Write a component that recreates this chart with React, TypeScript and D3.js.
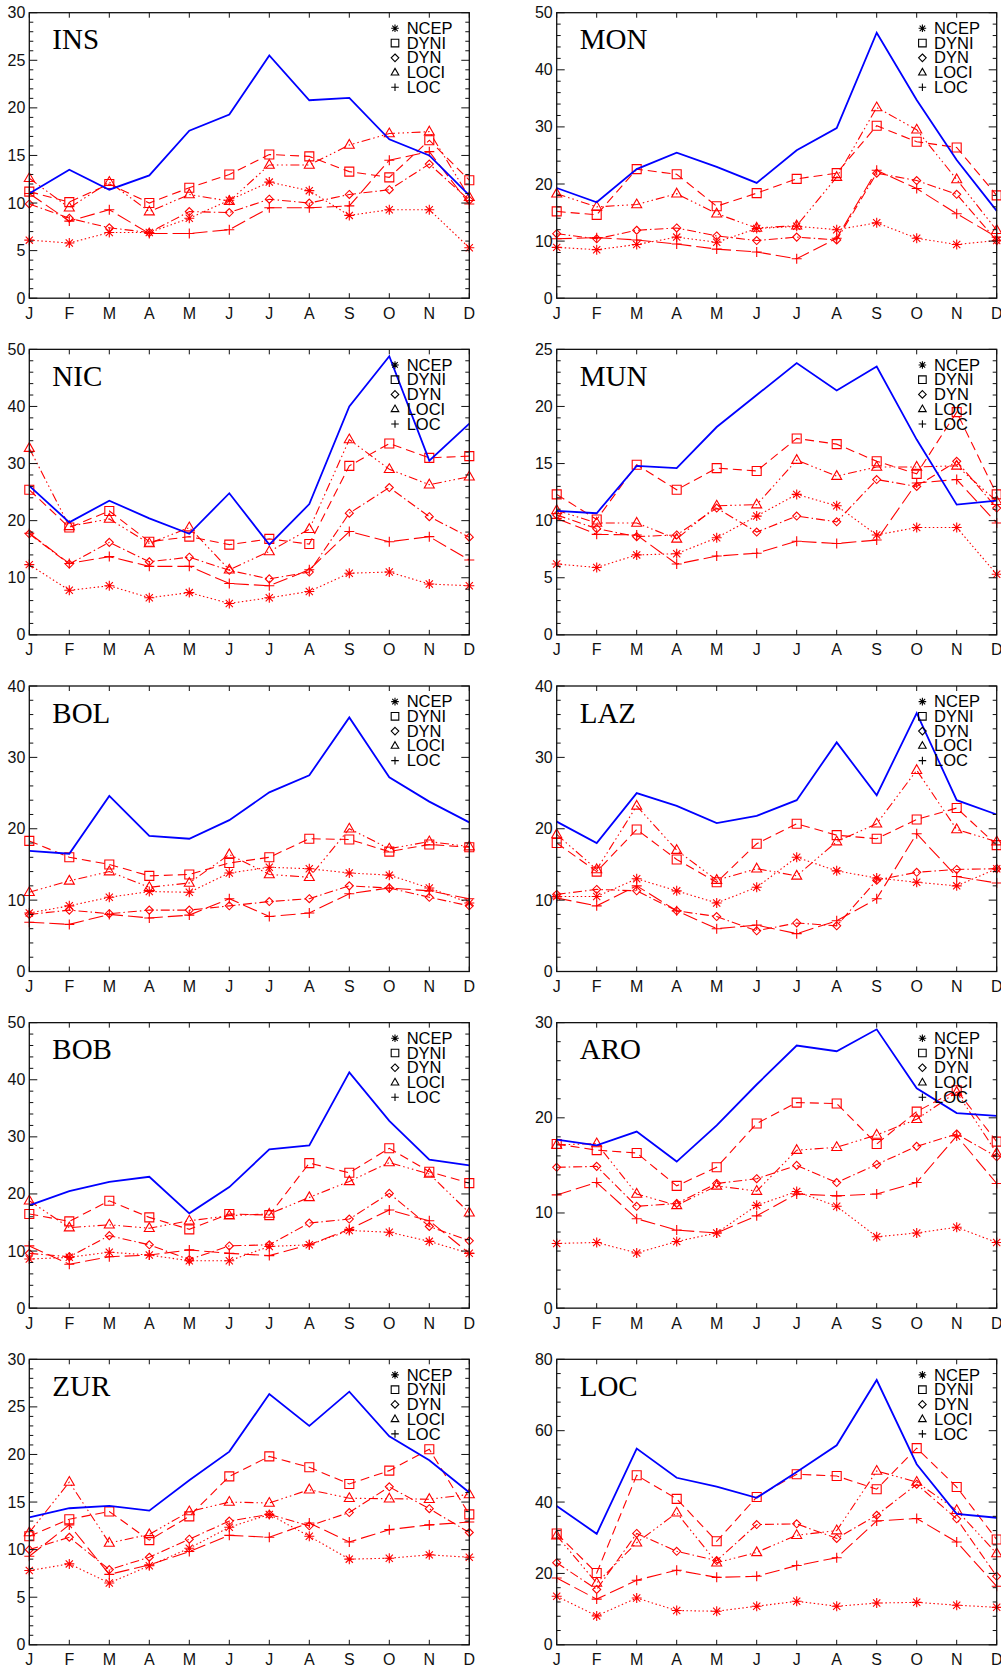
import * as d3 from "d3";
import React from "react";

const months = ["J", "F", "M", "A", "M", "J", "J", "A", "S", "O", "N", "D"];
const seriesNames = ["NCEP", "DYNI", "DYN", "LOCI", "LOC"];

// INS
const insObs = [11.0, 13.5, 11.4, 12.9, 17.6, 19.3, 25.5, 20.8, 21.05, 16.7, 15.0, 10.8];
const insNcep = [6.1, 5.8, 6.9, 6.9, 8.4, 10.3, 12.2, 11.3, 8.7, 9.3, 9.3, 5.3];
const insDyni = [11.2, 10.1, 12.0, 10.0, 11.6, 13.0, 15.1, 14.9, 13.3, 12.7, 16.6, 12.4];
const insDyn = [9.9, 8.4, 7.4, 6.9, 9.1, 9.0, 10.4, 10.0, 10.9, 11.4, 14.1, 10.3];
const insLoci = [12.6, 9.5, 12.2, 9.1, 10.9, 10.2, 14.0, 14.0, 16.1, 17.3, 17.5, 10.6];
const insLoc = [11.0, 8.1, 9.3, 6.8, 6.8, 7.2, 9.5, 9.5, 9.7, 14.5, 15.4, 9.9];

// MON
const monObs = [19.3, 16.8, 22.6, 25.5, 23.0, 20.2, 25.9, 29.8, 46.5, 34.7, 24.2, 15.3];
const monNcep = [8.9, 8.5, 9.4, 10.7, 9.8, 12.2, 12.6, 12.0, 13.2, 10.5, 9.4, 10.1];
const monDyni = [15.2, 14.6, 22.6, 21.7, 16.1, 18.4, 20.9, 21.9, 30.2, 27.4, 26.4, 18.0];
const monDyn = [11.3, 10.4, 11.9, 12.3, 10.9, 10.1, 10.7, 10.2, 21.9, 20.6, 18.2, 10.1];
const monLoci = [18.3, 16.0, 16.4, 18.3, 14.8, 12.3, 12.7, 21.2, 33.4, 29.5, 20.8, 11.9];
const monLoc = [10.4, 10.6, 10.2, 9.5, 8.6, 8.1, 6.9, 10.5, 22.4, 19.2, 14.8, 10.7];

// NIC
const nicObs = [26.1, 19.7, 23.5, 20.4, 17.7, 24.8, 15.8, 22.9, 40.0, 48.8, 30.5, 37.0];
const nicNcep = [12.3, 7.8, 8.6, 6.5, 7.4, 5.5, 6.5, 7.6, 10.8, 11.0, 8.9, 8.6];
const nicDyni = [25.4, 18.8, 21.7, 16.3, 17.2, 15.8, 16.8, 15.9, 29.6, 33.5, 31.0, 31.3];
const nicDyn = [17.7, 12.4, 16.2, 12.8, 13.6, 11.3, 9.8, 11.0, 21.3, 25.8, 20.7, 17.1];
const nicLoci = [32.7, 19.0, 20.3, 16.0, 18.8, 11.4, 14.6, 18.5, 34.2, 29.0, 26.3, 27.7];
const nicLoc = [17.8, 12.5, 13.7, 12.0, 12.0, 9.0, 8.6, 11.4, 18.1, 16.3, 17.2, 13.1];

// MUN
const munObs = [10.85, 10.65, 14.8, 14.6, 18.2, 21.0, 23.8, 21.4, 23.5, 17.1, 11.4, 11.75];
const munNcep = [6.2, 5.9, 7.0, 7.1, 8.5, 10.4, 12.3, 11.3, 8.75, 9.4, 9.4, 5.3];
const munDyni = [12.3, 10.1, 14.9, 12.7, 14.6, 14.35, 17.2, 16.7, 15.2, 14.1, 19.5, 12.3];
const munDyn = [10.5, 9.3, 8.6, 8.75, 11.1, 9.0, 10.4, 9.9, 13.6, 13.0, 15.2, 11.1];
const munLoci = [10.9, 9.8, 9.8, 8.4, 11.3, 11.4, 15.3, 13.9, 14.7, 14.7, 14.8, 11.7];
const munLoc = [10.2, 8.8, 8.75, 6.2, 6.9, 7.15, 8.2, 8.0, 8.3, 13.3, 13.6, 9.8];

// BOL
const bolObs = [16.9, 16.5, 24.6, 19.0, 18.6, 21.2, 25.1, 27.5, 35.6, 27.2, 23.8, 20.9];
const bolNcep = [8.2, 9.2, 10.4, 11.2, 11.1, 13.8, 14.6, 14.4, 13.8, 13.5, 11.7, 9.6];
const bolDyni = [18.3, 16.0, 15.0, 13.4, 13.6, 15.2, 16.0, 18.6, 18.5, 16.8, 17.8, 17.4];
const bolDyn = [8.0, 8.6, 8.1, 8.6, 8.6, 9.2, 9.8, 10.2, 12.0, 11.7, 10.4, 9.2];
const bolLoci = [11.1, 12.7, 14.0, 11.8, 12.4, 16.4, 13.6, 13.2, 20.0, 17.2, 18.2, 17.5];
const bolLoc = [6.9, 6.6, 8.0, 7.5, 7.9, 10.2, 7.7, 8.2, 10.9, 11.7, 11.3, 10.2];

// LAZ
const lazObs = [21.0, 18.0, 25.0, 23.2, 20.8, 21.8, 24.0, 32.1, 24.7, 36.2, 24.0, 22.0];
const lazNcep = [10.5, 10.5, 13.0, 11.3, 9.6, 11.8, 16.0, 14.1, 13.1, 12.5, 12.0, 14.4];
const lazDyni = [18.0, 14.0, 19.9, 15.7, 12.5, 17.9, 20.7, 19.1, 18.6, 21.3, 22.9, 17.7];
const lazDyn = [10.8, 11.5, 11.3, 8.5, 7.7, 5.7, 6.8, 6.4, 12.8, 13.9, 14.3, 14.4];
const lazLoci = [19.2, 14.3, 23.2, 17.0, 12.8, 14.4, 13.4, 18.2, 20.7, 28.2, 19.9, 18.2];
const lazLoc = [10.3, 9.2, 12.0, 8.5, 6.0, 6.5, 5.3, 7.1, 10.2, 19.3, 13.3, 12.4];

// BOB
const bobObs = [18.0, 20.5, 22.1, 23.0, 16.6, 21.2, 27.8, 28.5, 41.3, 32.8, 26.0, 25.0];
const bobNcep = [8.6, 8.9, 9.8, 9.3, 8.3, 8.3, 10.8, 11.1, 13.6, 13.3, 11.7, 9.6];
const bobDyni = [16.5, 15.2, 18.8, 15.9, 13.8, 16.5, 16.3, 25.4, 23.7, 28.0, 23.9, 21.9];
const bobDyn = [9.6, 9.0, 12.7, 11.1, 8.5, 10.9, 11.1, 14.9, 15.6, 20.1, 14.3, 11.8];
const bobLoci = [18.8, 14.1, 14.6, 14.0, 15.3, 16.2, 16.5, 19.4, 22.2, 25.5, 23.5, 16.7];
const bobLoc = [10.9, 7.7, 9.0, 9.3, 10.2, 9.6, 9.2, 11.1, 13.8, 17.2, 15.3, 9.6];

// ARO
const aroObs = [17.7, 17.1, 18.55, 15.4, 19.2, 23.5, 27.6, 27.0, 29.3, 23.1, 20.5, 20.2];
const aroNcep = [6.8, 6.9, 5.8, 7.0, 7.9, 10.8, 12.25, 10.7, 7.5, 7.9, 8.5, 6.9];
const aroDyni = [17.25, 16.6, 16.3, 12.85, 14.8, 19.4, 21.6, 21.5, 17.25, 20.65, 22.9, 17.5];
const aroDyn = [14.8, 14.9, 10.7, 11.0, 13.1, 13.6, 15.0, 13.2, 15.1, 17.0, 18.3, 15.9];
const aroLoci = [17.15, 17.3, 12.0, 10.8, 12.85, 12.3, 16.6, 16.9, 18.2, 19.85, 22.7, 16.3];
const aroLoc = [11.9, 13.2, 9.4, 8.2, 7.9, 9.7, 12.0, 11.8, 12.0, 13.2, 18.1, 13.1];

// ZUR
const zurObs = [13.4, 14.35, 14.6, 14.1, 17.3, 20.3, 26.35, 23.0, 26.6, 21.9, 19.4, 16.0];
const zurNcep = [7.8, 8.5, 6.5, 8.3, 10.15, 12.35, 13.7, 11.4, 9.0, 9.1, 9.45, 9.2];
const zurDyni = [11.4, 13.2, 14.0, 11.0, 13.5, 17.7, 19.8, 18.65, 16.9, 18.3, 20.55, 13.7];
const zurDyn = [10.0, 11.3, 7.9, 9.2, 11.1, 13.0, 13.7, 12.5, 13.9, 16.6, 14.3, 11.8];
const zurLoci = [11.8, 17.1, 10.7, 11.6, 14.0, 15.0, 14.9, 16.3, 15.4, 15.35, 15.3, 15.8];
const zurLoc = [9.3, 12.6, 7.4, 8.4, 9.8, 11.5, 11.3, 12.8, 10.8, 12.1, 12.6, 12.9];

// LOC
const locObs = [38.9, 31.1, 55.0, 46.8, 44.3, 41.2, 48.4, 55.9, 74.2, 50.6, 36.7, 35.6];
const locNcep = [13.6, 8.1, 13.1, 9.6, 9.4, 10.8, 12.2, 10.8, 11.7, 11.9, 11.1, 10.5];
const locDyni = [31.2, 20.1, 47.5, 40.9, 29.0, 41.4, 47.8, 47.3, 43.6, 55.1, 44.2, 29.5];
const locDyn = [23.0, 15.5, 31.2, 26.2, 23.6, 33.7, 33.9, 29.8, 36.3, 45.0, 35.3, 19.2];
const locLoci = [30.6, 17.3, 28.6, 37.0, 23.0, 25.9, 30.7, 32.0, 48.7, 45.6, 37.7, 25.6];
const locLoc = [18.7, 12.8, 18.1, 20.9, 18.9, 19.2, 22.2, 24.4, 34.7, 35.4, 28.8, 16.4];

const panels = [
  { name: "INS", max: 30, major: 5, minor: 1, obs: insObs, models: [insNcep, insDyni, insDyn, insLoci, insLoc] },
  { name: "MON", max: 50, major: 10, minor: 2, obs: monObs, models: [monNcep, monDyni, monDyn, monLoci, monLoc] },
  { name: "NIC", max: 50, major: 10, minor: 2, obs: nicObs, models: [nicNcep, nicDyni, nicDyn, nicLoci, nicLoc] },
  { name: "MUN", max: 25, major: 5, minor: 1, obs: munObs, models: [munNcep, munDyni, munDyn, munLoci, munLoc] },
  { name: "BOL", max: 40, major: 10, minor: 2, obs: bolObs, models: [bolNcep, bolDyni, bolDyn, bolLoci, bolLoc] },
  { name: "LAZ", max: 40, major: 10, minor: 2, obs: lazObs, models: [lazNcep, lazDyni, lazDyn, lazLoci, lazLoc] },
  { name: "BOB", max: 50, major: 10, minor: 2, obs: bobObs, models: [bobNcep, bobDyni, bobDyn, bobLoci, bobLoc] },
  { name: "ARO", max: 30, major: 10, minor: 2, obs: aroObs, models: [aroNcep, aroDyni, aroDyn, aroLoci, aroLoc] },
  { name: "ZUR", max: 30, major: 5, minor: 1, obs: zurObs, models: [zurNcep, zurDyni, zurDyn, zurLoci, zurLoc] },
  { name: "LOC", max: 80, major: 20, minor: 4, obs: locObs, models: [locNcep, locDyni, locDyn, locLoci, locLoc] },
];

// line style + marker per model series
const dashes = ["1.5,2.5", "9,5", "9,3,1.5,3", "9,3,1.5,3,1.5,3,1.5,3", "15,5"];
const markerKinds = ["asterisk", "square", "diamond", "triangle", "plus"];

const RED = "#ff0000";
const BLUE = "#0000ff";
const sans = "Liberation Sans, Arial, Helvetica, sans-serif";
const serif = "Liberation Serif, Times New Roman, serif";

function markerPath(kind: string, x: number, y: number, r: number) {
  if (kind === "asterisk") {
    const d = r * 0.72;
    return `M${x - r},${y}H${x + r}M${x},${y - r}V${y + r}M${x - d},${y - d}L${x + d},${y + d}M${x - d},${y + d}L${x + d},${y - d}`;
  }
  if (kind === "square") return `M${x - r},${y - r}H${x + r}V${y + r}H${x - r}Z`;
  if (kind === "diamond") return `M${x},${y - r}L${x + r},${y}L${x},${y + r}L${x - r},${y}Z`;
  if (kind === "triangle") return `M${x},${y - r * 1.1}L${x + r},${y + r * 0.65}L${x - r},${y + r * 0.65}Z`;
  return `M${x - r},${y}H${x + r}M${x},${y - r}V${y + r}`;
}

const markerSize = [5, 4.5, 4, 5, 5];

function Panel({ p, idx }: { p: (typeof panels)[number]; idx: number }) {
  const col = idx % 2;
  const row = Math.floor(idx / 2);
  const left = col === 0 ? 29.3 : 556.7;
  const width = 440;
  const top = 12.7 + row * 336.65;
  const height = 285.5;
  const bottom = top + height;

  const x = d3.scaleLinear().domain([0, 11]).range([left, left + width]);
  const y = d3.scaleLinear().domain([0, p.max]).range([bottom, top]);
  const line = d3
    .line<number>()
    .x((_, i) => x(i))
    .y((v) => y(v));

  const majors = d3.range(0, p.max + 0.001, p.major);
  const minors = d3.range(0, p.max + 0.001, p.minor).filter((v) => Math.abs(v / p.major - Math.round(v / p.major)) > 1e-6);

  return (
    <g>
      {/* model series */}
      {p.models.map((vals, s) => (
        <g key={s}>
          <path d={line(vals) || ""} fill="none" stroke={RED} strokeWidth={1.1} strokeDasharray={dashes[s]} />
          {vals.map((v, i) => (
            <path key={i} d={markerPath(markerKinds[s], x(i), y(v), markerSize[s])} fill="none" stroke={RED} strokeWidth={1.1} />
          ))}
        </g>
      ))}
      {/* observed */}
      <path d={line(p.obs) || ""} fill="none" stroke={BLUE} strokeWidth={1.8} />

      {/* frame */}
      <rect x={left} y={top} width={width} height={height} fill="none" stroke="#111" strokeWidth={1.3} />
      {/* x ticks */}
      {months.map((m, i) => (
        <g key={i}>
          <line x1={x(i)} x2={x(i)} y1={bottom} y2={bottom - 5} stroke="#111" strokeWidth={1} />
          <line x1={x(i)} x2={x(i)} y1={top} y2={top + 5} stroke="#111" strokeWidth={1} />
          <text x={x(i)} y={bottom + 20.5} textAnchor="middle" fontFamily={sans} fontSize={16} fill="#111">
            {m}
          </text>
        </g>
      ))}
      {/* y ticks */}
      {majors.map((v) => (
        <g key={"M" + v}>
          <line x1={left} x2={left + 8} y1={y(v)} y2={y(v)} stroke="#111" strokeWidth={1} />
          <line x1={left + width} x2={left + width - 8} y1={y(v)} y2={y(v)} stroke="#111" strokeWidth={1} />
          <text x={left - 4} y={y(v) + 5.5} textAnchor="end" fontFamily={sans} fontSize={16} fill="#111">
            {v}
          </text>
        </g>
      ))}
      {minors.map((v) => (
        <g key={"m" + v}>
          <line x1={left} x2={left + 4} y1={y(v)} y2={y(v)} stroke="#111" strokeWidth={1} />
          <line x1={left + width} x2={left + width - 4} y1={y(v)} y2={y(v)} stroke="#111" strokeWidth={1} />
        </g>
      ))}
      {/* title */}
      <text x={left + 23} y={top + 36.6} fontFamily={serif} fontSize={29} fill="#000">
        {p.name}
      </text>
      {/* legend */}
      {seriesNames.map((n, s) => {
        const ly = top + 15.6 + s * 14.75;
        return (
          <g key={n}>
            <path d={markerPath(markerKinds[s], left + 365.7, ly, 3.8)} fill="none" stroke="#000" strokeWidth={1.1} />
            <text x={left + 377.4} y={ly + 5.6} fontFamily={sans} fontSize={16.5} fill="#000">
              {n}
            </text>
          </g>
        );
      })}
    </g>
  );
}

export default function App() {
  return (
    <svg
      width={1001}
      height={1666}
      style={{ position: "absolute", left: 0, top: 0, display: "block", background: "#fff" }}
    >
      <rect x={0} y={0} width={1001} height={1666} fill="#fff" />
      {panels.map((p, i) => (
        <Panel key={p.name} p={p} idx={i} />
      ))}
    </svg>
  );
}
